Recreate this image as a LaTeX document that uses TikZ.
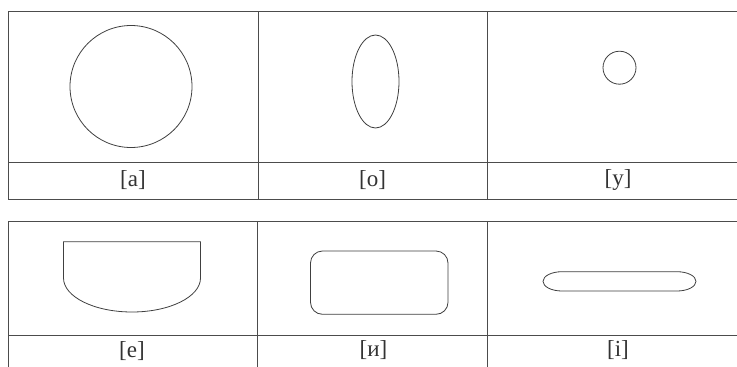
\documentclass[tikz,border=0pt]{standalone}
\usepackage{fontspec}
\setmainfont{Liberation Serif}
\begin{document}
\begin{tikzpicture}[x=1pt,y=-1pt,
  grid/.style={draw=black!70,line width=0.9pt},
  shp/.style={draw=black!75,line width=0.8pt},
  lbl/.style={font=\fontsize{23}{25}\selectfont,text=black!80,inner sep=0pt}]
\useasboundingbox[fill=white] (0,0) rectangle (737,367);
% top table
\draw[grid] (737,11) -- (8,11) -- (8,199) -- (737,199);
\draw[grid] (8,162) -- (737,162);
\draw[grid] (258,11) -- (258,199);
\draw[grid] (487,11) -- (487,199);
% bottom table
\draw[grid] (737,221) -- (8,221) -- (8,367);
\draw[grid] (8,335) -- (737,335);
\draw[grid] (257,221) -- (257,367);
\draw[grid] (487,221) -- (487,367);
% shapes
\draw[shp] (131,86.5) circle[radius=61];
\draw[shp] (375.5,81.5) ellipse[x radius=23.5,y radius=46.5];
\draw[shp] (619.5,67.7) circle[radius=16.5];
\draw[shp] (63.5,278) -- (63.5,241.7) -- (200.5,241.7) -- (200.5,278)
  arc[start angle=0,end angle=180,x radius=68.5,y radius=34];
\draw[shp,rounded corners=12pt] (310.5,251) rectangle (448,314.3);
\draw[shp] (562,271.7) -- (677,271.7) arc[start angle=90,end angle=-90,x radius=19,y radius=-9.65]
  -- (562,291) arc[start angle=270,end angle=90,x radius=19,y radius=-9.65] -- cycle;
% labels
\node[lbl] (la) at (133,180) {[а]};
\node[lbl] (lo) at (372.5,180) {[о]};
\node[lbl] (lu) at (618,180) {[у]};
\node[lbl] (le) at (132,351) {[е]};
\node[lbl] (li) at (373.5,350) {[и]};
\node[lbl] (lii) at (618,350) {[і]};
\end{tikzpicture}
\end{document}
